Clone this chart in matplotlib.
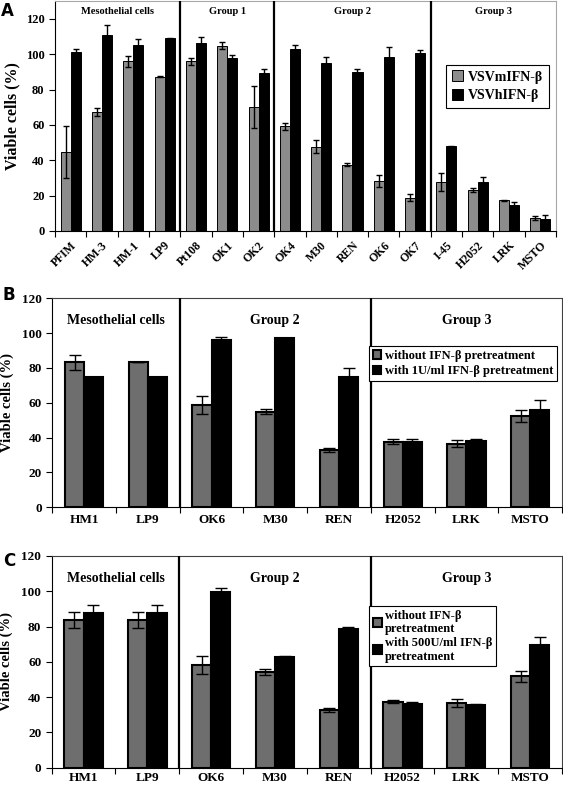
import matplotlib
matplotlib.use('Agg')
import matplotlib.pyplot as plt
import numpy as np

# Panel A data
a_cells = ['PFIM', 'HM-3', 'HM-1', 'LP9', 'Pt108', 'OK1', 'OK2', 'OK4',
           'M30', 'REN', 'OK6', 'OK7', 'I-45', 'H2052', 'LRK', 'MSTO']
a_mifn = [44.6, 67.3, 96.0, 87.3, 96.0, 104.7, 70.3, 59.2,
          47.8, 37.6, 28.2, 18.9, 27.8, 23.1, 17.4, 7.2]
a_mifn_err = [14.8, 2.2, 3.0, 0.3, 2.0, 2.0, 11.8, 2.0,
              3.4, 0.6, 3.2, 2.2, 5.0, 1.0, 0.3, 1.0]
a_hifn = [101.3, 110.8, 105.5, 109.1, 106.6, 97.9, 89.4, 103.2,
          94.9, 90.2, 98.5, 100.8, 48.0, 27.6, 14.6, 7.0]
a_hifn_err = [1.5, 5.8, 3.2, 0.3, 3.2, 1.7, 2.5, 2.0,
              3.8, 1.5, 5.7, 1.5, 0.3, 3.2, 1.7, 2.3]
a_groups = ['Mesothelial cells', 'Group 1', 'Group 2', 'Group 3']
a_group_sizes = [4, 3, 5, 4]

# Panels B and C data
bc_cells = ['HM1', 'LP9', 'OK6', 'M30', 'REN', 'H2052', 'LRK', 'MSTO']
bc_groups = ['Mesothelial cells', 'Group 2', 'Group 3']
bc_group_sizes = [2, 3, 3]

b_without = [83.4, 83.4, 58.6, 54.9, 32.9, 37.7, 36.6, 52.4]
b_without_err = [4.3, 0.0, 5.3, 1.5, 1.0, 1.5, 2.0, 3.5]
b_with = [74.6, 74.6, 96.1, 97.0, 74.6, 37.7, 38.1, 55.9]
b_with_err = [0.3, 0.3, 1.5, 0.5, 5.4, 1.5, 1.0, 5.7]

c_without = [83.7, 83.7, 58.2, 54.4, 32.7, 37.4, 36.7, 51.8]
c_without_err = [4.3, 4.3, 5.3, 1.7, 1.1, 1.0, 2.1, 3.2]
c_with = [87.9, 87.9, 99.8, 62.9, 78.4, 36.1, 35.7, 69.6]
c_with_err = [4.3, 4.3, 2.0, 0.6, 1.3, 1.3, 0.5, 4.5]

SERIF = 'Liberation Serif'


def draw_panel(ax, cells, s1, e1, s2, e2, groups, sizes, ymax, width,
               gray, edge_lw, cap, tick_fs, group_fs, group_y, frame_col):
    x = np.arange(len(cells))
    b1 = ax.bar(x - width / 2, s1, width, color=gray, edgecolor='black', linewidth=edge_lw, zorder=2)
    b2 = ax.bar(x + width / 2, s2, width, color='black', edgecolor='black', linewidth=edge_lw, zorder=2)
    ax.errorbar(x - width / 2, s1, yerr=e1, fmt='none', ecolor='black', elinewidth=1.0,
                capsize=cap, capthick=1.0, zorder=3)
    ax.errorbar(x + width / 2, s2, yerr=e2, fmt='none', ecolor='black', elinewidth=1.0,
                capsize=cap, capthick=1.0, zorder=3)
    ax.set_xlim(-0.5, len(cells) - 0.5)
    ax.set_ylim(0, ymax)
    ax.set_yticks(np.arange(0, 121, 20))
    ax.set_xticks(x)
    ax.set_xticks(np.arange(-0.5, len(cells), 1), minor=True)
    ax.tick_params(axis='x', which='major', length=0)
    ax.tick_params(axis='x', which='minor', length=4, width=0.8, direction='out')
    ax.tick_params(axis='y', length=4, width=0.8, direction='out', labelsize=tick_fs)
    for lab in ax.get_yticklabels():
        lab.set_fontfamily(SERIF)
        lab.set_fontweight('bold')
    ax.spines['left'].set_color('black')
    ax.spines['bottom'].set_color('black')
    ax.spines['top'].set_color(frame_col)
    ax.spines['right'].set_color(frame_col)
    # group separators and labels
    start = 0
    for name, n in zip(groups, sizes):
        ax.text(start - 0.5 + n / 2, group_y, name, ha='center', va='center',
                family=SERIF, fontweight='bold', fontsize=group_fs)
        start += n
        if start < len(cells):
            ax.axvline(start - 0.5, color='black', lw=1.6, zorder=4)
    return b1, b2


fig = plt.figure(figsize=(5.63, 7.88), dpi=100)

# ---- Panel A
axA = fig.add_axes([0.0977, 0.7069, 0.8899, 0.2915])
hA = draw_panel(axA, a_cells, a_mifn, a_mifn_err, a_hifn, a_hifn_err, a_groups, a_group_sizes,
                130, 0.32, '#8c8c8c', 0.7, 2.5, 9, 7.5, 124, '#a8a8a8')
axA.set_xticklabels(a_cells, rotation=45, ha='right', rotation_mode='anchor',
                    family=SERIF, fontweight='bold', fontsize=8.5)
axA.tick_params(axis='x', which='major', pad=6)
axA.set_ylabel('Viable cells (%)', family=SERIF, fontweight='bold', fontsize=11.5, labelpad=4)
axA.legend(hA, ['VSVmIFN-β', 'VSVhIFN-β'], loc='upper right', bbox_to_anchor=(0.986, 0.723),
           borderaxespad=0, fancybox=False, framealpha=1, edgecolor='black',
           prop={'family': SERIF, 'weight': 'bold', 'size': 10},
           handlelength=0.8, handleheight=0.8, handletextpad=0.4, labelspacing=0.4,
           borderpad=0.4).get_frame().set_linewidth(0.8)
fig.text(0.002, 0.997, 'A', ha='left', va='top', fontsize=12, fontweight='bold')

# ---- Panel B
axB = fig.add_axes([0.0929, 0.3562, 0.9053, 0.2652])
hB = draw_panel(axB, bc_cells, b_without, b_without_err, b_with, b_with_err, bc_groups,
                bc_group_sizes, 120, 0.30, '#6e6e6e', 1.5, 4.5, 9.5, 10, 107, '#404040')
axB.set_xticklabels(bc_cells, family=SERIF, fontweight='bold', fontsize=9.5)
axB.tick_params(axis='x', which='major', pad=5)
axB.set_ylabel('Viable cells (%)', family=SERIF, fontweight='bold', fontsize=10.5, labelpad=6)
axB.legend(hB, ['without IFN-β pretreatment', 'with 1U/ml IFN-β pretreatment'],
           loc='upper left', bbox_to_anchor=(0.621, 0.772), borderaxespad=0,
           fancybox=False, framealpha=1, edgecolor='black',
           prop={'family': SERIF, 'weight': 'bold', 'size': 9},
           handlelength=0.7, handleheight=0.7, handletextpad=0.3, labelspacing=0.3,
           borderpad=0.3).get_frame().set_linewidth(0.8)
fig.text(0.005, 0.637, 'B', ha='left', va='top', fontsize=12, fontweight='bold')

# ---- Panel C
axC = fig.add_axes([0.0918, 0.0258, 0.9064, 0.2687])
hC = draw_panel(axC, bc_cells, c_without, c_without_err, c_with, c_with_err, bc_groups,
                bc_group_sizes, 120, 0.30, '#6e6e6e', 1.5, 4.5, 9.5, 10, 107, '#404040')
axC.set_xticklabels(bc_cells, family=SERIF, fontweight='bold', fontsize=9.5)
axC.tick_params(axis='x', which='major', pad=3)
axC.set_ylabel('Viable cells (%)', family=SERIF, fontweight='bold', fontsize=10.5, labelpad=6)
axC.legend(hC, ['without IFN-β\npretreatment', 'with 500U/ml IFN-β\npretreatment'],
           loc='upper left', bbox_to_anchor=(0.622, 0.764), borderaxespad=0,
           fancybox=False, framealpha=1, edgecolor='black',
           prop={'family': SERIF, 'weight': 'bold', 'size': 9},
           handlelength=0.7, handleheight=0.7, handletextpad=0.3, labelspacing=0.1,
           borderpad=0.3).get_frame().set_linewidth(0.8)
fig.text(0.005, 0.300, 'C', ha='left', va='top', fontsize=12, fontweight='bold')

fig.savefig('out.png', dpi=100)
